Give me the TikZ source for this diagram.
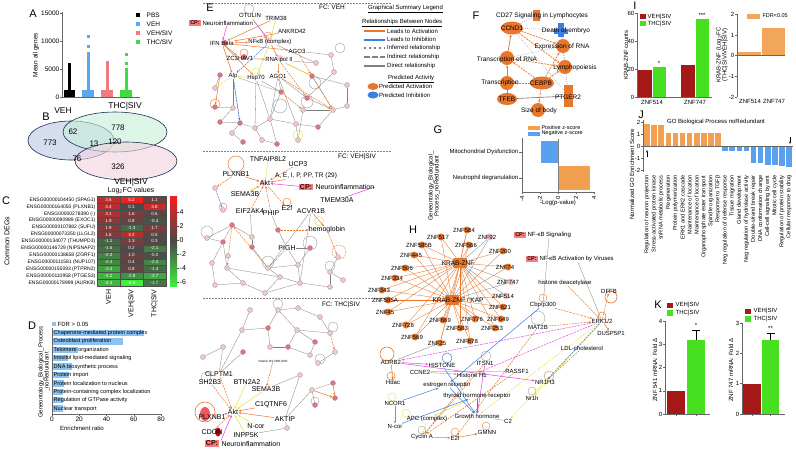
\documentclass[tikz,border=0pt]{standalone}
\usepackage{fontspec}
\setmainfont{Liberation Sans}
\usetikzlibrary{arrows.meta,shapes.geometric,calc}
\pgfdeclarelayer{bgl}
\pgfdeclarelayer{edges}
\pgfsetlayers{bgl,edges,main}
\definecolor{vehc}{HTML}{5AA8F2}
\definecolor{vsivc}{HTML}{F07A80}
\definecolor{tsivc}{HTML}{3EDC3E}
\definecolor{vennb}{HTML}{C8D2EA}
\definecolor{venng}{HTML}{C6EFD6}
\definecolor{vennp}{HTML}{F3D3DD}
\definecolor{venne}{HTML}{1E2A5A}
\definecolor{hred}{HTML}{F41E1E}
\definecolor{hgreen}{HTML}{3CF03C}
\definecolor{hgray}{HTML}{4A4A4A}
\definecolor{dbar}{HTML}{8CC2F2}
\definecolor{orn}{HTML}{E8762C}
\definecolor{bln}{HTML}{3C7FE0}
\definecolor{yln}{HTML}{E6E046}
\definecolor{mgn}{HTML}{E040E8}
\definecolor{pkn}{HTML}{F5C6CA}
\definecolor{rdn}{HTML}{E4717C}
\definecolor{cpbox}{HTML}{F08080}
\definecolor{bred}{HTML}{A51818}
\definecolor{bgrn}{HTML}{46E020}
\definecolor{borg}{HTML}{F2A65A}
\definecolor{gbl}{HTML}{5AA0F0}
\definecolor{gor}{HTML}{F0A050}
\newcommand\myfs[1]{\fontsize{#1}{#1}\selectfont}
\newcommand\hcell[4]{%
  \pgfmathtruncatemacro\hsgn{(#4>=0)?1:0}%
  \ifnum\hsgn=1\relax
    \pgfmathtruncatemacro\hpct{min(100,abs(#4)/5.2*100)}\def\hcol{hred}%
  \else
    \pgfmathtruncatemacro\hpct{min(100,abs(#4)/6.6*100)}\def\hcol{hgreen}%
  \fi
  \node[hc, fill=\hcol!\hpct!hgray] (#1) at (#2,#3) {#4};}
\tikzset{
 plab/.style={font=\myfs{11}, inner sep=0pt},
 tk/.style={font=\myfs{6.5}, inner sep=0.5pt},
 tks/.style={font=\myfs{6}, inner sep=0.5pt},
 ax/.style={draw=black!60, line width=0.5pt},
 hc/.style={draw=black!70, line width=0.2pt, minimum width=23pt, minimum height=6.9pt, inner sep=0pt, font=\myfs{4.5}, text=white},
 rowl/.style={font=\myfs{5}, anchor=east, inner sep=0.5pt},
 nl/.style={font=\myfs{6}, inner sep=0.3pt},
 nlb/.style={font=\myfs{7}, inner sep=0.3pt},
 nlf/.style={font=\myfs{6.5}, inner sep=0.3pt},
 sn/.style={circle, draw=black!45, line width=0.25pt, minimum size=5pt, inner sep=0pt},
 ge/.style={draw=black!50, line width=0.3pt},
 gdot/.style={draw=black!45, line width=0.4pt, dash pattern=on 0.8pt off 1.2pt},
 oe/.style={draw=orn, line width=0.5pt, -{Stealth[length=2.5pt,width=2.2pt]}},
 oed/.style={oe, dash pattern=on 2pt off 1pt},
 ye/.style={draw=yln, line width=0.5pt, -{Stealth[length=2.5pt,width=2.2pt]}},
 yed/.style={ye, dash pattern=on 2pt off 1pt},
 be/.style={draw=bln, line width=0.5pt, -{Stealth[length=2.5pt,width=2.2pt]}},
 bed/.style={be, dash pattern=on 2pt off 1pt},
 me/.style={draw=mgn, line width=0.5pt, -{Stealth[length=2.5pt,width=2.2pt]}},
 med/.style={me, dash pattern=on 2pt off 1pt},
 cp/.style={fill=cpbox, font=\myfs{5.5}\bfseries, inner sep=0.8pt, text=black!80!red},
 zn/.style={circle, fill=orn, minimum size=7pt, inner sep=0pt},
 zl/.style={font=\myfs{6}, inner sep=0.3pt},
 loopc/.style={draw=black!45, line width=0.3pt},
 sep/.style={draw=black!50, line width=0.4pt, dash pattern=on 1.5pt off 1.5pt},
}
\begin{document}
\begin{tikzpicture}[x=1pt,y=-1pt]
\useasboundingbox (0,0) rectangle (796,450);
\begin{pgfonlayer}{bgl}
\fill[white] (0,0) rectangle (796,450);
\end{pgfonlayer}

%================ A =================
\node[plab] (lA) at (33,14) {A};
\draw[ax] (62,12) -- (62,97) -- (140,97);
\foreach \v/\y in {15000/13,10000/41,5000/69,0/97}{
  \draw[ax] (60,\y) -- (62,\y);
  \node[tk, anchor=east] (aT\y) at (60,\y) {\v};}
\node[tk, rotate=90] (aYl) at (36,55) {Mean all genes};
\fill[black] (64,90) rectangle (75,97);
\fill[black] (68,63) rectangle (71,90);
\fill[vehc] (82,90) rectangle (94,97);
\fill[vehc] (86.5,52) rectangle (89.5,90);
\fill[vehc] (86.5,45) rectangle (89.5,47.5);
\fill[vehc] (86.5,35) rectangle (89.5,37.5);
\fill[vsivc] (101,90) rectangle (113,97);
\fill[vsivc] (105.5,61) rectangle (108.5,90);
\fill[tsivc] (120,90) rectangle (132,97);
\fill[tsivc] (124.5,68) rectangle (127.5,90);
\fill[tsivc] (124.5,62) rectangle (127.5,64.5);
\fill[tsivc] (124.5,53) rectangle (127.5,55.5);
\foreach \c/\t/\y [count=\i] in {black/PBS/15,vehc/VEH/24,vsivc/VEH\slash SIV/33,tsivc/THC\slash SIV/42}{
  \fill[\c] (136,\y-2) rectangle (140,\y+2);
  \node[tk, anchor=west] (aL\i) at (146,\y) {\t};}

%================ B =================
\node[plab] (lB) at (46,117) {B};
\draw[venne, line width=0.6pt, fill=vennb, fill opacity=0.75] (71,140.5) ellipse [x radius=43pt, y radius=19.5pt];
\draw[venne, line width=0.6pt, fill=venng, fill opacity=0.6] (115,132) ellipse [x radius=52pt, y radius=20pt];
\draw[venne, line width=0.6pt, fill=vennp, fill opacity=0.6] (126,161) ellipse [x radius=51pt, y radius=19pt];
\node[font=\myfs{8.5}, inner sep=0] (bT) at (125,106) {THC|SIV};
\node[font=\myfs{8.5}, inner sep=0] (bV) at (63,111) {VEH};
\node[font=\myfs{8.5}, inner sep=0] (bS) at (131,182) {VEH|SIV};
\foreach \n/\x/\y in {773/50/143,62/73/132,13/94/144,120/115/142,778/118/128,76/77/159,326/118/167}{
  \node[font=\myfs{8}, inner sep=0] (bN\n) at (\x,\y) {\n};}

%================ C =================
\node[plab] (lC) at (6,201) {C};
\node[font=\myfs{7}, rotate=90, inner sep=0] (cY) at (7,241) {Common DEGs};
\node[font=\myfs{7}, inner sep=0] (cT) at (131,191) {Log\textsubscript{2}FC values};
\foreach \nm/\a/\b/\c [count=\r] in {
 ENSG00000104450 (SPAG1)/3.6/5.2/1.1,
 ENSG00000164050 (PLXNB1)/3.4/0.1/3.8,
 ENSG00000278390 (-)/3.1/1.6/0.6,
 ENSG00000090989 (EXOC1)/1.9/0.8/-0.4,
 ENSG00000107882 (SUFU)/1.9/-1.3/1.7,
 ENSG00000073350 (LLGL2)/1.6/3.2/0.5,
 ENSG00000134077 (THUMPD3)/-1.1/1.3/0.3,
 ENSG00000146729 (NIPSNAP2)/-1.5/0.2/-2.1,
 ENSG00000138658 (ZGRF1)/-2.3/1.0/-0.2,
 ENSG00000111581 (NUP107)/-2.4/0.4/-2.4,
 ENSG00000155093 (PTPRN2)/-3.4/0.8/-1.4,
 ENSG00000110958 (PTGES3)/-4.2/-2.8/-3.7,
 ENSG00000178999 (AURKB)/-4.3/-6.6/-1.7}{
  \pgfmathsetmacro\yy{200+6.9*(\r-1)}
  \node[rowl] (cr\r) at (96,\yy) {\nm};
  \hcell{hca\r}{108.5}{\yy}{\a}
  \hcell{hcb\r}{131.5}{\yy}{\b}
  \hcell{hcc\r}{154.5}{\yy}{\c}
}
\shade[top color=hred, bottom color=hgreen, middle color=hgray] (170,196.5) rectangle (177,286);
\foreach \v/\y in {4/212,2/226,0/240,-2/254,-4/268,-6/282}{
  \draw[black!70, line width=0.3pt] (177,\y) -- (179,\y);
  \node[font=\myfs{7}, anchor=west, inner sep=0.5pt] (cb\y) at (179,\y) {\v};}
\foreach \t/\x [count=\i] in {VEH/108.5,VEH|SIV/131.5,THC|SIV/154.5}{
  \node[font=\myfs{7}, rotate=90, anchor=east, inner sep=0.5pt] (cc\i) at (\x,289) {\t};}

%================ D =================
\node[plab] (lD) at (32,326) {D};
\fill[dbar] (52,322) rectangle (56,326);
\node[tks, anchor=west] (dL) at (57,324) {FDR > 0.05};
\foreach \t/\v [count=\i] in {Chaperone-mediated protein complex/67.5,Osteoblast proliferation/52,Telomere organization/19,Inositol lipid-mediated signaling/11.5,DNA biosynthetic process/14.4,Protein import/12.7,Protein localization to nucleus/9,Protein-containing complex localization/8.3,Regulation of GTPase activity/7.8,Nuclear transport/7.8}{
  \pgfmathsetmacro\yy{333+8.4*(\i-1)}
  \fill[dbar] (52,\yy-3.2) rectangle ({52+\v*109/80},\yy+3.2);
  \node[font=\myfs{5.6}, anchor=west, inner sep=0.5pt] (dB\i) at (53,\yy) {\t};}
\draw[ax] (52,328) -- (52,414) -- (162,414);
\foreach \v/\x in {0/52,20/79.25,40/106.5,60/133.75,80/161}{
  \draw[ax] (\x,414) -- (\x,416);
  \node[tk, anchor=north] (dT\v) at (\x,416.5) {\v};}
\node[tks] (dX) at (82,428) {Enrichment ratio};
\node[font=\myfs{6}, rotate=90, align=center, inner sep=0] (dY) at (44,372) {Geneontology\_Biological\_Process\\\_noRedundant};

%================ E separators and labels =================
\draw[sep] (203,3) -- (392,3);
\draw[sep] (203,151) -- (392,151);
\draw[sep] (203,298) -- (392,298);
\node[plab] (lE) at (210,8) {E};
\node[tk] (eFC1) at (332,7) {FC: VEH};
\node[tk] (eFC2) at (357,157) {FC: VEH|SIV};
\node[tk] (eFC3) at (341,305) {FC: THC|SIV};

% ---- E top ----
\foreach \x/\y/\c [count=\i] in {220/75/rdn,215/88/pkn,215/107/rdn,233/108/pkn,220/122/rdn,240/123/rdn,232/133/pkn,243/142/rdn,255/128/pkn,262/140/pkn,281/92/rdn,270/119/pkn,296/124/pkn,303/110/pkn,307/98/rdn,312/76/rdn,316/63/pkn,331/55/pkn,334/72/pkn,347/85/pkn,333/110/pkn,347/106/pkn,298/140/pkn,277/144/rdn,318/127/rdn}{
  \node[sn, fill=\c] (et\i) at (\x,\y) {};}
\node[circle, fill=rdn, minimum size=6pt, inner sep=0] (eIFNc) at (225,43) {};
\node[circle, fill=rdn, minimum size=6pt, inner sep=0] (eZC3c) at (244,57) {};
\node[circle, fill=pkn, minimum size=6pt, inner sep=0] (eNFc) at (268,40) {};
\node[circle, fill=pkn, minimum size=6pt, inner sep=0] (eRNAc) at (280,58) {};
\node[cp] (eCP1) at (195,23) {CP:};
\node[nl, anchor=west] (eNI1) at (202,23) {Neuroinflammation};
\node[nl] (eOTU) at (250,15) {OTULIN};
\node[nl] (eTRIM) at (276,18) {TRIM38};
\node[nl] (eANK) at (292,31) {ANKRD42};
\node[nl] (eIFN) at (222,43) {IFN Beta};
\node[nl] (eNFKB) at (270,42) {NFκB (complex)};
\node[nl] (eAGO3) at (297,51) {AGO3};
\node[nl] (eZC3) at (240,58) {ZC3HAV1};
\node[nl] (eRNA) at (279,60) {RNA pol II};
\node[nl] (eAlp) at (233,76) {Alp};
\node[nl] (eHsp) at (256,78) {Hsp70};
\node[nl] (eAGO1) at (278,76) {AGO1};
\begin{pgfonlayer}{edges}
 \draw[loopc] (249,9) circle (5pt);
 \draw[loopc] (340,48) circle (5pt);
 \draw[loopc] (315,83) circle (6pt);
 \draw[loopc] (307,102) circle (6pt);
 \draw[loopc] (280,106) circle (7pt);
 \draw[draw=orn, line width=0.4pt] (268,36) circle (4pt);
 \draw[draw=orn, line width=0.4pt] (215,104) circle (5pt);
 \draw[draw=orn, line width=0.4pt] (244,53) circle (4pt);
 \draw[draw=yln, line width=0.4pt] (256,72) circle (4pt);
 \draw[draw=yln, line width=0.4pt] (298,135) circle (5pt);
 \foreach \a/\b in {eAlp/et4,eAlp/et6,eAlp/et11,eHsp/et11,eHsp/et12,eAGO1/et11,eAGO1/et13,eAGO1/et15,eRNA/et16,eRNA/et17,eNFKB/et17,et18/et19,et19/et15,et16/et21,et15/et21,et20/et22,et22/et21,et14/et21,et12/et13,et12/et9,et9/et6,et9/et10,et10/et24,et13/et23,et14/et23,et12/et24,et5/et6,et6/et7,et7/et8,et4/et5,et3/et4,et11/et12,et2/et1,et13/et25,et25/et21,et16/et20,eAGO3/et18,eHsp/et9,eAGO1/et12}
   \draw[ge] (\a) -- (\b);
 \foreach \a/\b in {eAGO1/et21,et16/et21,et11/et14,eRNA/et15,eAGO3/et16}
   \draw[oed] (\a) -- (\b);
 \foreach \a/\b in {eIFN/eNFKB,eTRIM/eIFN,eIFN/eZC3,eIFN/eHsp,eIFN/eAGO3,eZC3/eRNA,eNFKB/eRNA,eANK/eIFN,eRNA/eAGO1,eIFN/eAlp,et1/et3}
   \draw[oe] (\a) -- (\b);
 \foreach \a/\b in {eNFKB/eHsp,eOTU/eNFKB,eTRIM/eNFKB,eHsp/eAlp,eRNA/et16}
   \draw[ye] (\a) -- (\b);
 \draw[yed] (eAlp) -- (et2);
 \draw[bed] (eNFKB) -- (eAlp);
 \draw[bed] (eAlp) -- (et6);
 \draw[me] (eNI1) -- (eIFN);
 \draw[me] (eNI1.north east) -- (eNFKB);
\end{pgfonlayer}

% ---- Legend ----
\node[font=\myfs{6}, anchor=west, inner sep=0] (lgT) at (368,9) {\underline{Graphical Summary Legend}};
\node[font=\myfs{6}, anchor=west, inner sep=0] (lgR) at (362,23) {\underline{Relationships Between Nodes}};
\coordinate (lg1a) at (364,31); \coordinate (lg1b) at (385,31);
\coordinate (lg2a) at (364,39.5); \coordinate (lg2b) at (385,39.5);
\coordinate (lg3a) at (364,48); \coordinate (lg3b) at (385,48);
\coordinate (lg4a) at (364,57); \coordinate (lg4b) at (385,57);
\coordinate (lg5a) at (364,66); \coordinate (lg5b) at (385,66);
\draw[orn, line width=2pt] (lg1a) -- (lg1b);
\draw[bln, line width=2pt] (lg2a) -- (lg2b);
\draw[black!50, line width=2pt, dash pattern=on 2pt off 3pt] (lg3a) -- (lg3b);
\draw[black!50, line width=2pt, dash pattern=on 6pt off 2pt] (lg4a) -- (lg4b);
\draw[black!50, line width=2pt] (lg5a) -- (lg5b);
\foreach \t/\y [count=\i] in {Leads to Activation/31,Leads to Inhibition/39.5,Inferred relationship/48,Indirect relationship/57,Direct relationship/66}{
  \node[font=\myfs{6}, anchor=west, inner sep=0] (lgt\i) at (387,\y) {\t};}
\node[font=\myfs{6}, anchor=west, inner sep=0] (lgP) at (388,79) {\underline{Predicted Activity}};
\node[ellipse, fill=orn, minimum width=11pt, minimum height=7pt, inner sep=0] (lgE1) at (373,86.5) {};
\node[ellipse, fill=bln, minimum width=11pt, minimum height=7pt, inner sep=0] (lgE2) at (373,95) {};
\node[font=\myfs{6}, anchor=west, inner sep=0] (lgA1) at (379,86.5) {Predicted Activation};
\node[font=\myfs{6}, anchor=west, inner sep=0] (lgA2) at (379,95) {Predicted Inhibition};

% ---- E middle ----
\foreach \x/\y/\c [count=\i] in {215/188/pkn,223/210/pkn,232/225/rdn,252/237/pkn,207/238/pkn,223/242/rdn,252/247/rdn,228/256/pkn,212/263/pkn,227/268/pkn,243/283/pkn,215/285/pkn,265/293/pkn,278/230/rdn,268/268/pkn,280/277/pkn,298/265/pkn,310/248/rdn,300/283/pkn,330/287/pkn,330/272/pkn,343/280/pkn,338/257/pkn}{
  \node[sn, fill=\c] (em\i) at (\x,\y) {};}
\node[circle, fill=pkn, minimum size=6pt, inner sep=0] (mAktc) at (263,183) {};
\node[nlb] (mTNF) at (268,159) {TNFAIP8L2};
\node[nlb] (mUCP) at (298,164) {UCP3};
\node[nlb] (mPLX) at (236,174) {PLXNB1};
\node[font=\myfs{6.5}, inner sep=0.3pt] (mAEI) at (306,176) {A, E, I, P, PP, TR (29)};
\node[nlb] (mAkt) at (265,183) {Akt};
\node[cp, font=\myfs{7}\bfseries] (mCP) at (306,187) {CP:};
\node[nlb, anchor=west] (mNI) at (315,187) {Neuroinflammation};
\node[nlb] (mSEMA) at (245,194) {SEMA3B};
\node[nlb] (mE2f) at (287,208) {E2f};
\node[nlb] (mEIF) at (250,211) {EIF2AK4};
\node[nlb] (mPHIP) at (271,213) {PHIP};
\node[nlb] (mTMEM) at (337,200) {TMEM30A};
\node[nlb] (mACV) at (311,211) {ACVR1B};
\node[nlb] (mHEM) at (327,230) {hemoglobin};
\node[nlb] (mPIGH) at (287,248) {PIGH};
\begin{pgfonlayer}{edges}
 \draw[draw=orn, line width=0.5pt] (236,164) circle (8pt);
 \draw[draw=orn, line width=0.4pt] (287,202) circle (4pt);
 \draw[draw=orn, line width=0.4pt, dash pattern=on 2pt off 1pt] (339,252) circle (7pt);
 \draw[draw=yln, line width=0.4pt] (319,221) circle (4.5pt);
 \draw[draw=orn, line width=0.4pt] (223,207) circle (4pt);
 \draw[loopc] (310,243) circle (7pt);
 \draw[loopc] (268,262) circle (6pt);
 \draw[loopc] (207,232) circle (6pt);
 \draw[loopc] (330,266) circle (5pt);
 \foreach \a/\b in {em3/em4,em3/em5,em3/em6,em5/em6,em6/em9,em6/em10,em4/em7,em4/mEIF,em7/em15,em10/em11,em11/em13,em12/em11,em13/em16,em15/em16,em15/em17,em16/em19,em17/em19,em19/em20,em20/em21,em21/em22,em19/em13,mPIGH/em18,mPIGH/em17,mPIGH/em15,mACV/em15,em14/mPHIP,em14/mPIGH,em23/em21,em18/em17,mACV/em19,em9/em12,em10/em16}
   \draw[ge] (\a) -- (\b);
 \foreach \a/\b in {mPHIP/mAkt,mEIF/mAkt,mAkt/mE2f,mUCP/mAkt,mPLX/em1,em14/mHEM,mHEM/em23,em15/em3,em3/em10}
   \draw[oed] (\a) -- (\b);
 \foreach \a/\b in {mPLX/mAkt,mAEI/mAkt,mSEMA/mAkt,mACV/mHEM}
   \draw[oe] (\a) -- (\b);
 \foreach \a/\b in {mTNF/mAkt,mAkt/mSEMA}
   \draw[ye] (\a) -- (\b);
 \draw[bed] (em1) -- (em2);
 \draw[me] (mCP) -- (mAkt);
 \draw[draw=mgn, line width=0.5pt] (mNI.east) -- (mTMEM);
\end{pgfonlayer}

% ---- E bottom ----
\foreach \x/\y/\c [count=\i] in {250/310/pkn,278/310/pkn,298/308/pkn,320/317/pkn,242/330/pkn,268/328/rdn,297/330/pkn,330/333/pkn,315/342/rdn,270/347/pkn,288/347/rdn,310/355/pkn,335/352/pkn,318/363/pkn,223/347/pkn,243/352/rdn,203/357/pkn,300/375/pkn,312/390/pkn,333/383/rdn,335/398/rdn,315/405/rdn,287/428/pkn}{
  \node[sn, fill=\c] (eb\i) at (\x,\y) {};}
\node[ellipse, fill=rdn!80!red, minimum width=10pt, minimum height=14pt, inner sep=0] (bPLXc) at (205,414) {};
\node[ellipse, fill=red!80!black, minimum width=6pt, minimum height=9pt, inner sep=0] (bCDc) at (218,432) {};
\node[nlb] (bCLP) at (219,374) {CLPTM1};
\node[nlb] (bBTN) at (247,382) {BTN2A2};
\node[nlb] (bSH2) at (210,382) {SH2B3};
\node[nlb] (bSEMA) at (266,389) {SEMA3B};
\node[nlb] (bC1Q) at (271,405) {C1QTNF6};
\node[nlb] (bPLX) at (212,417) {PLXNB1};
\node[nlb] (bAkt) at (233,412) {Akt};
\node[nlb] (bAKT) at (285,419) {AKTIP};
\node[nlb] (bNcor) at (256,426) {N-cor};
\node[nlb] (bCDON) at (212,432) {CDON};
\node[nlb] (bINP) at (246,435) {INPP5K};
\node[cp, font=\myfs{7}\bfseries] (bCP) at (212,443.5) {CP:};
\node[nlb, anchor=west] (bNI) at (221,443.5) {Neuroinflammation};
\node[font=\myfs{3}, inner sep=0.3pt] (bVIT) at (273,361) {Vitamin D3-VDR-RXR};
\begin{pgfonlayer}{edges}
 \draw[draw=orn, line width=0.6pt] (205,412) circle (10pt);
 \draw[loopc] (278,304) circle (5pt);
 \draw[loopc] (333,327) circle (5pt);
 \draw[loopc] (320,359) circle (5pt);
 \draw[loopc] (206,377) circle (5pt);
 \draw[loopc] (315,401) circle (4pt);
 \foreach \a/\b in {eb18/bAKT,eb19/bAKT,eb19/eb20,eb19/eb22,eb23/bINP,eb5/bCLP,eb15/bCLP,eb16/bCLP,eb1/eb5,eb5/eb6,eb6/eb2,eb2/eb3,eb2/eb7,eb7/eb8,eb7/eb9,eb6/eb10,eb10/eb11,eb11/eb7,eb11/eb12,eb14/eb13,eb17/eb15,eb3/eb4,eb4/eb8,eb18/bSEMA,eb23/bAKT,eb9/eb12}
   \draw[ge] (\a) -- (\b);
 \foreach \a/\b in {bSH2/bAkt,bCDON/bAkt,bVIT/bSEMA,bCLP/bAkt,eb8/eb13}
   \draw[oed] (\a) -- (\b);
 \foreach \a/\b in {bPLX/bAkt,bAKT/bAkt,bC1Q/bAkt,eb20/eb21,eb19/eb21}
   \draw[oe] (\a) -- (\b);
 \foreach \a/\b in {bBTN/bAkt,bNcor/bAkt,bINP/bAkt,bSEMA/bAkt}
   \draw[ye] (\a) -- (\b);
 \draw[me] (bNI.north west) -- (bAkt);
\end{pgfonlayer}

%================ F =================
\node[plab] (lF) at (476,16) {F};
\node[fill=orn, minimum width=7pt, minimum height=11pt, inner sep=0] (fcdr) at (536.5,15.5) {};
\node[nlf] (fcd) at (542,16) {CD27 Signaling in Lymphocytes};
\node[fill=bln, minimum width=6pt, minimum height=14pt, inner sep=0] (fdv) at (561,30) {};
\node[fill=bln, minimum width=14pt, minimum height=5pt, inner sep=0] (fdh) at (561,31) {};
\node[nlf] (fdeath) at (566,31) {Death of embryo};
\node[ellipse, fill=orn, minimum width=22pt, minimum height=13pt, inner sep=0] (fccs) at (512,28) {};
\node[nlf] (fcc) at (512,28) {CCND1};
\node[circle, fill=orn, minimum size=14pt, inner sep=0] (fexs) at (563,46) {};
\node[nlf] (fex) at (562,47) {Expression of RNA};
\node[circle, fill=orn, minimum size=14pt, inner sep=0] (ftrs) at (507,58) {};
\node[nlf] (ftr) at (507,60) {Transcription of RNA};
\node[circle, fill=orn, minimum size=14pt, inner sep=0] (flys) at (565,67) {};
\node[nlf] (fly) at (575,68) {Lymphopoiesis};
\node[circle, fill=orn, minimum size=14pt, inner sep=0] (ftas) at (507,83) {};
\node[nlf] (fta) at (500,83) {Transcription};
\node[ellipse, fill=orn, minimum width=24pt, minimum height=13pt, inner sep=0] (fces) at (542,83) {};
\node[nlf] (fce) at (541,83) {CEBPB};
\node[ellipse, fill=orn, minimum width=20pt, minimum height=12pt, inner sep=0] (ftfs) at (507,99) {};
\node[nlf] (ftf) at (507,99) {TFEB};
\node[fill=orn, minimum width=9pt, minimum height=22pt, inner sep=0] (fpts) at (568.5,96) {};
\node[nlf] (fpt) at (568,97) {PTGER2};
\node[circle, fill=orn, minimum size=14pt, inner sep=0] (fszs) at (538,110) {};
\node[nlf] (fsz) at (539,111) {Size of body};
\begin{pgfonlayer}{edges}
 \foreach \a/\b in {fccs/fdv,fccs/fpts,fdv/fexs,fexs/fpts,fccs/fcdr,ftrs/fexs,fdv/flys}
   \draw[gdot] (\a) -- (\b);
 \draw[draw=black!55, line width=0.6pt] (ftfs) -- (fpts);
 \draw[oe, line width=0.8pt] (ftrs) -- (fccs);
 \draw[oe, line width=0.8pt] (ftfs) -- (ftrs);
 \foreach \a/\b in {fccs/fexs,fccs/flys,fces/fexs,fces/flys,fces/ftrs,fces/ftas,fces/fszs,ftrs/flys}
   \draw[oed, line width=0.7pt] (\a) -- (\b);
\end{pgfonlayer}

%================ G =================
\node[plab] (lG) at (438,130) {G};
\fill[gor] (528,125.5) rectangle (540,129.5);
\fill[gbl] (528,131.5) rectangle (540,135.5);
\node[font=\myfs{5.5}, anchor=west, inner sep=0.3pt] (gL1) at (541,127.5) {Positive z-score};
\node[font=\myfs{5.5}, anchor=west, inner sep=0.3pt] (gL2) at (541,133.5) {Negative z-score};
\fill[gbl] (541,141) rectangle (558,163);
\fill[gor] (558,166) rectangle (590,190);
\draw[black!50, line width=0.4pt] (558,139) -- (558,192);
\draw[ax] (522,138) -- (522,192) -- (594,192);
\foreach \v/\x in {-4/522,-2/540,0/558,2/576,4/594}{
  \draw[ax] (\x,192) -- (\x,194);
  \node[font=\myfs{6}, rotate=90, anchor=east, inner sep=0.5pt] (gT\x) at (\x,195) {\v};}
\draw[ax] (519,152) -- (522,152);
\draw[ax] (519,178) -- (522,178);
\node[font=\myfs{6}, anchor=east, inner sep=0.5pt] (gC1) at (519,152) {Mitochondrial Dysfunction};
\node[font=\myfs{6}, anchor=east, inner sep=0.5pt] (gC2) at (519,178) {Neutrophil degranulation};
\node[font=\myfs{6}, inner sep=0] (gX) at (558,203) {-Log(p-value)};
\node[font=\myfs{6}, rotate=90, align=center, inner sep=0] (gY) at (434,186) {Geneontology\_Biological\_\\Process\_noRedundant};

%================ H =================
\node[plab] (lH) at (413,230) {H};
\node[fill=orn, rounded corners=1pt, minimum width=14pt, minimum height=10pt, inner sep=0] (hk1) at (460,263) {};
\node[fill=orn, rounded corners=1pt, minimum width=14pt, minimum height=10pt, inner sep=0] (hk2) at (452,300) {};
\node[font=\myfs{6.5}, inner sep=0.3pt] (hk1l) at (458,263) {KRAB-ZNF};
\node[font=\myfs{6.5}, inner sep=0.3pt] (hk2l) at (458,300) {KRAB-ZNF / KAP};
\foreach \nm/\x/\y/\c/\e in {ZNF584/464/230/orn/orn,ZNF517/438/237/orn/orn,ZNF585B/419/245/orn/orn,ZNF566/466/245/orn/orn,ZNF92/487/237/pkn/black!45,ZNF445/411/255/orn/orn,ZNF200/500/251/orn/orn,ZNF506/402/268/orn/orn,ZNF74/505/267/orn/orn,ZNF334/392/278/orn/orn,ZNF747/508/282/pkn/black!45,ZNF343/379/290/orn/orn,ZNF585A/385/300/orn/orn,ZNF514/503/296/pkn/black!45,ZNF45/385/312/orn/orn,ZNF621/500/307/orn/orn,ZNF728/403/325/orn/orn,ZNF669/440/320/orn/orn,ZNF776/472/319/orn/orn,ZNF649/498/319/orn/orn,ZNF583/457/328/orn/orn,ZNF253/492/328/orn/orn,ZNF569/412/337/orn/orn,ZNF25/437/343/orn/orn,ZNF678/467/341/orn/orn}{
  \node[zn, fill=\c] (hc\nm) at (\x+3,\y) {};
  \node[zl] (h\nm) at (\x,\y) {\nm};
  \begin{pgfonlayer}{edges}
   \draw[draw=\e, line width=0.35pt] (hk1) -- (hc\nm);
   \draw[draw=\e, line width=0.35pt] (hk2) -- (hc\nm);
  \end{pgfonlayer}}
\node[cp] (hCPa) at (520,235) {CP:};
\node[nl, anchor=west] (hNFa) at (527,235) {NF-κB Signaling};
\node[cp] (hCPb) at (532,259) {CP:};
\node[nl, anchor=west] (hNFb) at (539,259) {NF-κB Activation by Viruses};
\foreach \n/\t/\x/\y in {hHDA/histone deacetylase/565/283,hCBP/Cbp\slash p300/543/305,hMAT/MAT2B/538/327,hERK/ERK1\slash 2/602/321,hDUS/DUSP5P1/611/333,hDFF/DFFB/609/291,hLDL/LDL-cholesterol/582/348,hITS/ITSN1/485/363,hRAS/RASSF1/517/371,hNR3/NR1H3/545/382,hNR/Nr1h/532/398,hHIS/HISTONE/442/365,hADR/ADRB2/391/362,hCCN/CCNE2/420/372,hHDAC/Hdac/393/382,hH1/Histone H1/472/375,hER/estrogen receptor/447/385,hTHR/thyroid hormone receptor/477/396,hNCO/NCOR1/395/403,hGH/Growth hormone/477/416,hC2/C2/508/421,hAPC/APC (complex)/427/419,hNC/N-cor/395/426,hCYC/Cyclin A/422/437,hE2F/E2f/455/438,hGMN/GMNN/487/432}{
  \node[nl] (\n) at (\x,\y) {\t};}
\begin{pgfonlayer}{edges}
 \draw[draw=orn, line width=0.6pt] (387,354) circle (7pt);
 \draw[draw=orn, line width=0.5pt] (391,376) circle (4pt);
 \draw[draw=bln, line width=0.5pt] (447,358) circle (5pt);
 \draw[loopc] (486,356) circle (5pt);
 \draw[loopc] (538,318) circle (7pt);
 \draw[draw=orn, line width=0.4pt] (543,298) circle (4pt);
 \draw[draw=orn, line width=0.4pt] (549,376) circle (5pt);
 \draw[loopc] (532,391) circle (4pt);
 \draw[draw=orn, line width=0.4pt] (486,426) circle (4pt);
 \draw[draw=orn, line width=0.4pt] (455,432) circle (4pt);
 \draw[loopc] (422,430) circle (4pt);
 \draw[draw=yln, line width=0.4pt] (406,413) circle (4pt);
 \draw[draw=yln, line width=0.4pt] (392,397) circle (4pt);
 \draw[draw=orn, line width=0.6pt] (611,297) circle (6pt);
 \draw[draw=orn, line width=0.5pt] (602,316) circle (4pt);
 \draw[draw=black!50, line width=0.35pt] (hcZNF25) -- (hADR);
 \draw[ge] (hNFa) -- (hCBP);
 \draw[ge] (hNFb) -- (hERK);
 \draw[ge] (hGH) -- (hC2);
 \draw[ge] (hRAS) -- (hCCN);
 \foreach \a/\b in {hHDA/hERK,hCBP/hERK,hMAT/hERK,hERK/hDFF,hRAS/hCYC,hH1/hCYC,hMAT/hE2F,hCCN/hH1,hLDL/hNR3,hITS/hCYC}
   \draw[oed] (\a) -- (\b);
 \foreach \a/\b in {hERK/hDUS,hNCO/hNC,hADR/hHDAC,hCYC/hE2F,hE2F/hGMN}
   \draw[oe] (\a) -- (\b);
 \foreach \a/\b in {hERK/hADR,hERK/hH1}
   \draw[med] (\a) -- (\b);
 \foreach \a/\b in {hADR/hHIS,hITS/hGH,hADR/hNR3}
   \draw[me] (\a) -- (\b);
 \foreach \a/\b in {hERK/hGH,hERK/hC2,hERK/hNR}
   \draw[yed] (\a) -- (\b);
 \foreach \a/\b in {hAPC/hCYC,hTHR/hAPC}
   \draw[ye] (\a) -- (\b);
 \draw[bed] (hERK) -- (hNR3);
 \foreach \a/\b in {hCBP/hER,hNC/hTHR,hNCO/hER,hHIS/hGH,hER/hGH,hTHR/hGH}
   \draw[be] (\a) -- (\b);
\end{pgfonlayer}

%================ I =================
\node[plab] (lI) at (635,6) {I};
\fill[bred] (638,70) rectangle (651.5,97);
\fill[bgrn] (652.5,67) rectangle (666,97);
\fill[bred] (681,65) rectangle (694.5,97);
\fill[bgrn] (695.5,19) rectangle (709,97);
\draw[ax] (637,13) -- (637,97) -- (712,97);
\foreach \v/\y in {60/13,40/41,20/69,0/97}{
  \draw[ax] (635,\y) -- (637,\y);
  \node[tks, anchor=east] (iT\v) at (635,\y) {\v};}
\node[tks] (iS1) at (659,63) {*};
\node[tks] (iS2) at (702,15) {***};
\node[tks] (iX1) at (652,102) {ZNF514};
\node[tks] (iX2) at (695,102) {ZNF747};
\fill[bred] (640,14) rectangle (646,19);
\fill[bgrn] (640,21) rectangle (646,26);
\node[tks, anchor=west] (iL1) at (647,16.5) {VEH|SIV};
\node[tks, anchor=west] (iL2) at (647,23.5) {THC|SIV};
\node[tks, rotate=90] (iY) at (626,55) {KRAB-ZNF counts};
\fill[borg] (738,52) rectangle (761,55);
\fill[borg] (762,28) rectangle (785,55);
\draw[ax] (737,14) -- (737,97);
\draw[ax] (737,55) -- (785,55);
\foreach \v/\y in {2/14,1/35,0/55,-1/76,-2/97}{
  \draw[ax] (735,\y) -- (737,\y);
  \node[tks, anchor=east] (iR\y) at (735,\y) {\v};}
\fill[borg] (747,13.5) rectangle (760,18.5);
\node[font=\myfs{5.5}, anchor=west, inner sep=0.3pt] (iFDR) at (762,16) {FDR<0.05};
\node[tks] (iX3) at (750,101) {ZNF514};
\node[tks] (iX4) at (774,101) {ZNF747};
\node[tks, rotate=90, align=center, inner sep=0] (iY2) at (722,55) {KRAB-ZNF (Log\textsubscript{2}FC\\(THC|SIV/VEH|SIV)};

%================ J =================
\node[plab] (lJ) at (641,115) {J};
\node[tks] (jT) at (716,122) {GO Biological Process noRedundant};
\foreach \t/\v [count=\i] in {Regulation of neuron projection/1.8,Stress-activated protein kinase/1.75,snRNA metabolic process/1.75,Regeneration/1.1,Protein polymerization/1.1,ERK1 and ERK2 cascade/1.1,Maintenance of location/1.1,Maintenance of location/1.1,Organophosphate ester transport/1.1,Spindle organization/1.1,Response to TGFβ/1.1,Neg regulation of defense response/-0.45,Tissue migration/-0.45,Gland development/-0.45,Neg regulation of hydrolase activity/-0.45,Double-strand break repair/-1.45,DNA conformation change/-1.45,Cell-cell signaling by wnt/-1.55,Mitotic cell cycle/-1.6,Regulation of protein stability/-1.65,Cellular response to drug/-1.75}{
  \pgfmathsetmacro\xx{647+7.1*(\i-1)}
  \pgfmathtruncatemacro\sg{(\v>0)?1:0}
  \ifnum\sg=1\relax\def\jc{gor}\else\def\jc{gbl}\fi
  \fill[\jc] (\xx-2.8,146) rectangle (\xx+2.8,146-12*\v);
  \node[font=\myfs{5.6}, rotate=90, anchor=east, inner sep=0.3pt] (jl\i) at (\xx,175) {\t};}
\draw[ax] (643,120) -- (643,172);
\draw[ax] (643,146) -- (793,146);
\foreach \v/\y in {2/122,1/134,0/146,-1/158,-2/170}{
  \draw[ax] (641,\y) -- (643,\y);
  \node[tks, anchor=east] (jY\y) at (641,\y) {\v};}
\coordinate (ja1) at (647,157); \coordinate (ja2) at (647,150);
\draw[-{Stealth[length=2.5pt]}, line width=0.5pt] (ja1) -- (ja2);
\coordinate (ja3) at (790,137); \coordinate (ja4) at (790,144);
\draw[-{Stealth[length=2.5pt]}, line width=0.5pt] (ja3) -- (ja4);
\node[tks, rotate=90] (jY) at (632,174) {Normalized GO Enrichment Score};

%================ K =================
\node[plab] (lK) at (658,305) {K};
\fill[bred] (667,302.5) rectangle (673,308);
\fill[bgrn] (667,310) rectangle (673,315.5);
\node[tks, anchor=west] (kL1) at (675,305) {VEH|SIV};
\node[tks, anchor=west] (kL2) at (675,313) {THC|SIV};
\fill[bred] (667,390.75) rectangle (685,414);
\fill[bgrn] (687,339.6) rectangle (705,414);
\draw[black, line width=0.5pt] (696,339.6) -- (696,330.3);
\draw[black, line width=0.5pt] (692,330.3) -- (700,330.3);
\node[tks] (kS1) at (696,325) {*};
\draw[ax] (665,321) -- (665,414) -- (710,414);
\foreach \v/\y in {4/321,3/344.25,2/367.5,1/390.75,0/414}{
  \draw[ax] (663,\y) -- (665,\y);
  \node[tks, anchor=east] (kA\y) at (663,\y) {\v};}
\draw[ax] (676,414) -- (676,416);
\draw[ax] (696,414) -- (696,416);
\node[tks, rotate=90] (kY1) at (655,370) {ZNF 541 mRNA: Fold Δ};
\fill[bred] (745,308.5) rectangle (751,314);
\fill[bgrn] (745,316) rectangle (751,321.5);
\node[tks, anchor=west] (kL3) at (753,311) {VEH|SIV};
\node[tks, anchor=west] (kL4) at (753,319) {THC|SIV};
\fill[bred] (743,383.7) rectangle (761,414);
\fill[bgrn] (762,339.7) rectangle (779,414);
\draw[black, line width=0.5pt] (770.5,339.7) -- (770.5,333.6);
\draw[black, line width=0.5pt] (766.5,333.6) -- (774.5,333.6);
\node[tks] (kS2) at (770.5,328) {**};
\draw[ax] (742,323) -- (742,414) -- (785,414);
\foreach \v/\y in {3/323,2/353.3,1/383.7,0/414}{
  \draw[ax] (740,\y) -- (742,\y);
  \node[tks, anchor=east] (kB\y) at (740,\y) {\v};}
\draw[ax] (752,414) -- (752,416);
\draw[ax] (770,414) -- (770,416);
\node[tks, rotate=90] (kY2) at (731,370) {ZNF 747 mRNA: Fold Δ};
\end{tikzpicture}
\end{document}
